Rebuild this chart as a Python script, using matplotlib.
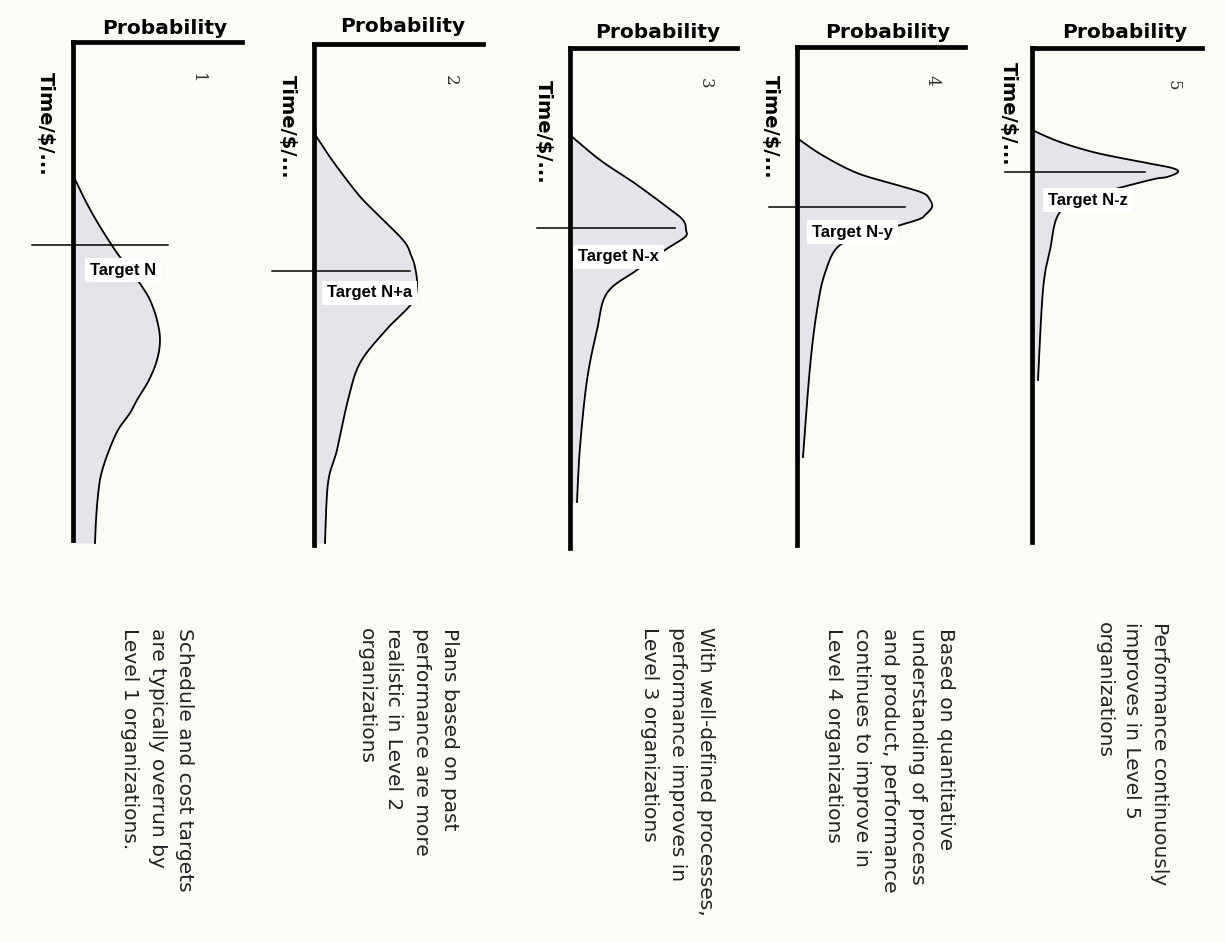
import numpy as np
import matplotlib
matplotlib.use("Agg")
import matplotlib.pyplot as plt

# ==============================
# Data (depth below the top line, probability width)
# ==============================
levels = ["1", "2", "3", "4", "5"]
targets = ["Target N", "Target N+a", "Target N-x", "Target N-y", "Target N-z"]

time_1 = [133, 158, 183, 211, 226, 243, 258, 278, 298, 318, 338, 358, 371, 388, 411, 433, 453, 478, 501]
prob_1 = [0, 12, 26, 44, 56, 68, 77, 84, 87, 84, 76, 64, 57, 45, 35, 28, 25, 23, 22]

time_2 = [89, 116, 149, 166, 196, 211, 223, 241, 259, 286, 319, 356, 406, 439, 499]
prob_2 = [0, 18, 43, 59, 89, 97, 101, 103, 98, 72, 46, 34, 23, 14, 11]

time_3 = [87, 112, 134, 159, 172, 182, 189, 202, 222, 245, 282, 332, 399, 454]
prob_3 = [0, 30, 63, 97, 113, 116, 115, 95, 67, 37, 27, 17, 10, 7]

time_4 = [91, 108, 126, 138, 146, 153, 160, 168, 173, 185, 198, 226, 263, 320, 410]
prob_4 = [0, 25, 60, 100, 126, 133, 135, 128, 120, 80, 43, 28, 20, 13, 6]

time_5 = [82, 94, 105, 115, 120, 124, 129, 132, 148, 164, 202, 242, 332]
prob_5 = [0, 28, 65, 115, 140, 146, 135, 118, 60, 28, 18, 11, 6]

target_time = [203, 227, 180, 160, 124]

descriptions = [
    ["Schedule and cost targets", "are typically overrun by", "Level 1 organizations."],
    ["Plans based on past", "performance are more", "realistic in Level 2", "organizations"],
    ["With well-defined processes,", "performance improves in", "Level 3 organizations"],
    ["Based on quantitative", "understanding of process", "and product, performance",
     "continues to improve in", "Level 4 organizations"],
    ["Performance continuously", "improves in Level 5", "organizations"],
]

times = [time_1, time_2, time_3, time_4, time_5]
probs = [prob_1, prob_2, prob_3, prob_4, prob_5]


def smooth(t, p, n=10):
    # Catmull-Rom through the read points, only for drawing
    pts = np.column_stack([p, t]).astype(float)
    pts = np.vstack([pts[0], pts, pts[-1]])
    out = []
    s = np.linspace(0, 1, n, endpoint=False)
    for k in range(1, len(pts) - 2):
        p0, p1, p2, p3 = pts[k - 1], pts[k], pts[k + 1], pts[k + 2]
        for u in s:
            out.append(0.5 * ((2 * p1) + (-p0 + p2) * u
                              + (2 * p0 - 5 * p1 + 4 * p2 - p3) * u ** 2
                              + (-p0 + 3 * p1 - 3 * p2 + p3) * u ** 3))
    out.append(pts[-2])
    out = np.array(out)
    return out[:, 1], np.clip(out[:, 0], 0, None)


# ==============================
# Layout (pixels)
# ==============================
W, H = 1225, 942
panel_box = [(73, 42, 169, 498), (314, 44, 169, 501), (570, 48, 167, 500),
             (797, 47, 168, 498), (1032, 48, 170, 494)]
target_span = [(-41, 95), (-42, 96), (-33, 105), (-28, 108), (-27, 113)]
target_label = [(17, 228), (13, 249), (8, 209), (15, 185), (16, 152)]
prob_label = [(92, -14), (89, -17), (88, -15), (91, -14), (93, -16)]
time_label = [(-28, 30), (-27, 31), (-27, 32), (-27, 28), (-24, 14)]
number_pos = [(124, 36), (136, 36), (135, 35), (135, 33), (141, 37)]
desc_pos = [(112, 586), (136, 584), (135, 579), (148, 581), (128, 574)]
line_gap = 28

fig = plt.figure(figsize=(W / 100, H / 100), dpi=100)
fig.patch.set_facecolor("#fcfcf7")

for i in range(5):
    x0, y0, w, h = panel_box[i]
    ax = fig.add_axes([x0 / W, 1 - (y0 + h) / H, w / W, h / H])
    ax.set_xlim(0, w)
    ax.set_ylim(h, 0)
    ax.patch.set_alpha(0)
    for side in ["right", "bottom"]:
        ax.spines[side].set_visible(False)
    for side in ["left", "top"]:
        ax.spines[side].set_linewidth(3.4)
    ax.set_xticks([])
    ax.set_yticks([])

    t, p = smooth(times[i], probs[i])
    ax.fill_betweenx(t, 0, p, color="#e4e4ea", lw=0, clip_on=False, zorder=1)
    ax.plot(p, t, color="black", lw=1.3, clip_on=False, zorder=2)

    ax.plot(target_span[i], [target_time[i]] * 2, color="black", lw=1.1,
            clip_on=False, zorder=2)

    lx, ly = target_label[i]
    ax.text(lx, ly, targets[i], fontsize=12, fontweight="bold",
            family="Liberation Sans", ha="left", va="center", zorder=4,
            bbox=dict(facecolor="white", edgecolor="none", pad=3.5))

    px, py = prob_label[i]
    ax.text(px, py, "Probability", fontsize=14.5, fontweight="bold",
            ha="center", va="center")

    tx, ty = time_label[i]
    ax.text(tx, ty, "Time/$/...", fontsize=14, fontweight="bold", rotation=-90,
            rotation_mode="anchor", ha="left", va="center")

    nx, ny = number_pos[i]
    ax.text(nx, ny, levels[i], fontsize=12, family="DejaVu Serif", rotation=-90,
            rotation_mode="anchor", ha="center", va="center", color="#333333")

    dx, dy = desc_pos[i]
    for j, line in enumerate(descriptions[i]):
        ax.text(dx - j * line_gap, dy, line, fontsize=14.5, rotation=-90,
                rotation_mode="anchor", ha="left", va="center", color="#222222")

fig.savefig("out.png", dpi=100, facecolor=fig.get_facecolor())
plt.close()
